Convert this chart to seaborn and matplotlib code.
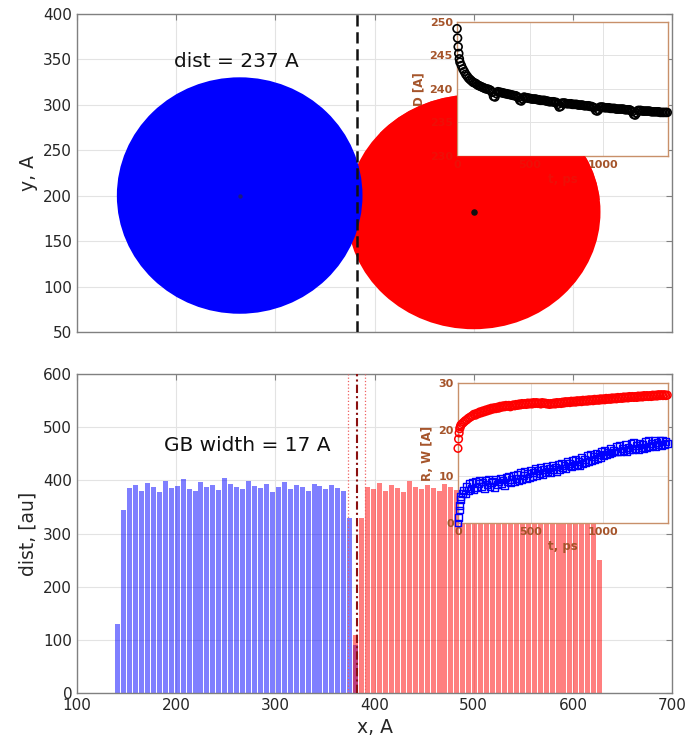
import numpy as np
import pandas as pd
import matplotlib
matplotlib.use("Agg")
import matplotlib.pyplot as plt
from matplotlib.patches import Ellipse
from matplotlib.path import Path
import seaborn as sns

# ---------------- data ----------------
# top panel: two grains (projected atom clouds)
grain_names = ["left grain", "right grain"]
grain_cx = [264, 500]
grain_cy = [200, 182]
grain_rx = [123, 127]
grain_ry = [129, 128]
grain_colors = ["blue", "red"]
gb_position = 382
dist_label = "dist = 237 A"

# bottom panel: histograms (6 A bins)
blue_start = 138
red_start = 378
bin_width = 6
blue_counts = [130, 345, 385, 392, 380, 395, 388, 378, 398, 386,
               390, 402, 384, 380, 396, 388, 392, 381, 405, 394,
               387, 383, 399, 390, 385, 393, 379, 388, 396, 384,
               391, 387, 380, 394, 389, 383, 392, 386, 380, 330,
               90]
red_counts = [110, 330, 388, 384, 395, 380, 392, 386, 378, 398,
              388, 383, 391, 385, 380, 394, 387, 382, 396, 389,
              384, 380, 392, 386, 381, 395, 388, 383, 390, 385,
              379, 393, 387, 382, 389, 384, 380, 391, 386, 382,
              378, 250]
gb_width = 17
gb_label = "GB width = 17 A"

# insets: time series (ps)
t_ps = [0, 4, 8, 12, 16, 20, 30, 40, 50, 60, 70, 80, 90,
        100, 110, 120, 130, 140, 150, 160, 170, 180, 190,
        200, 210, 220, 230, 240, 250, 260, 270, 280, 290,
        300, 310, 320, 330, 340, 350, 360, 370, 380, 390,
        400, 410, 420, 430, 440, 450, 460, 470, 480, 490,
        500, 510, 520, 530, 540, 550, 560, 570, 580, 590,
        600, 610, 620, 630, 640, 650, 660, 670, 680, 690,
        700, 710, 720, 730, 740, 750, 760, 770, 780, 790,
        800, 810, 820, 830, 840, 850, 860, 870, 880, 890,
        900, 910, 920, 930, 940, 950, 960, 970, 980, 990,
        1000, 1010, 1020, 1030, 1040, 1050, 1060, 1070, 1080, 1090,
        1100, 1110, 1120, 1130, 1140, 1150, 1160, 1170, 1180, 1190,
        1200, 1210, 1220, 1230, 1240, 1250, 1260, 1270, 1280, 1290,
        1300, 1310, 1320, 1330, 1340, 1350, 1360, 1370, 1380, 1390,
        1400, 1410, 1420, 1430, 1440]
D_A = [249.0, 247.6, 246.3, 245.3, 244.5, 244.0, 243.5, 243.0, 242.6, 242.2, 241.9, 241.6, 241.4,
       241.2, 241.0, 240.9, 240.8, 240.6, 240.5, 240.4, 240.3, 240.2, 240.1,
       240.0, 240.0, 239.9, 239.8, 239.5, 238.9, 238.8, 239.3, 239.6, 239.5,
       239.5, 239.4, 239.4, 239.3, 239.3, 239.2, 239.2, 239.1, 239.1, 239.0,
       239.0, 238.9, 238.7, 238.3, 238.2, 238.5, 238.8, 238.7, 238.7, 238.6,
       238.6, 238.5, 238.5, 238.5, 238.5, 238.4, 238.4, 238.3, 238.3, 238.3,
       238.3, 238.2, 238.2, 238.1, 238.1, 238.1, 238.1, 238.0, 238.0, 237.7,
       237.3, 237.4, 237.9, 237.9, 237.9, 237.8, 237.8, 237.8, 237.8, 237.7,
       237.7, 237.7, 237.7, 237.6, 237.6, 237.6, 237.6, 237.5, 237.5, 237.5,
       237.5, 237.4, 237.4, 237.3, 237.2, 236.8, 236.7, 236.9, 237.3, 237.3,
       237.3, 237.2, 237.2, 237.2, 237.2, 237.1, 237.1, 237.1, 237.1, 237.0,
       237.0, 237.0, 237.0, 237.0, 237.0, 236.9, 236.9, 236.9, 236.9, 236.8,
       236.6, 236.2, 236.1, 236.4, 236.8, 236.8, 236.8, 236.7, 236.7, 236.7,
       236.7, 236.7, 236.7, 236.6, 236.6, 236.6, 236.6, 236.6, 236.6, 236.5,
       236.5, 236.5, 236.5, 236.5, 236.5]
R_A = [16.0, 18.0, 19.3, 20.2, 20.6, 21.0, 21.3, 21.6, 21.9, 22.1, 22.4, 22.6, 22.8,
       23.0, 23.3, 23.1, 23.5, 23.4, 23.8, 23.6, 24.0, 23.8, 24.2,
       24.0, 24.4, 24.2, 24.6, 24.4, 24.7, 24.5, 24.8, 24.6, 25.0,
       24.8, 25.1, 24.9, 25.2, 25.0, 25.2, 24.9, 25.1, 25.3, 25.1,
       25.4, 25.2, 25.5, 25.3, 25.6, 25.4, 25.6, 25.4, 25.7, 25.5,
       25.7, 25.5, 25.8, 25.6, 25.8, 25.6, 25.7, 25.5, 25.8, 25.6,
       25.7, 25.5, 25.6, 25.4, 25.6, 25.5, 25.7, 25.5, 25.8, 25.6,
       25.8, 25.6, 25.9, 25.7, 26.0, 25.8, 26.0, 25.8, 26.1, 25.9,
       26.1, 25.9, 26.2, 26.0, 26.2, 26.0, 26.3, 26.1, 26.3, 26.1,
       26.4, 26.2, 26.4, 26.2, 26.5, 26.3, 26.5, 26.3, 26.6, 26.4,
       26.6, 26.4, 26.7, 26.5, 26.7, 26.5, 26.8, 26.6, 26.8, 26.6,
       26.9, 26.7, 26.9, 26.7, 27.0, 26.8, 27.0, 26.8, 27.1, 26.9,
       27.1, 26.9, 27.1, 26.9, 27.2, 27.0, 27.2, 27.0, 27.3, 27.1,
       27.3, 27.1, 27.3, 27.1, 27.4, 27.2, 27.4, 27.2, 27.5, 27.3,
       27.5, 27.3, 27.5, 27.3, 27.4]
W_A = [0.0, 1.2, 2.8, 3.8, 5.0, 5.6, 6.4, 7.0, 6.2, 7.8, 7.0, 8.4, 7.4,
       8.6, 7.2, 9.0, 7.6, 8.4, 9.2, 7.8, 8.8, 7.4, 9.2,
       8.2, 9.4, 7.8, 8.6, 9.0, 7.6, 9.4, 8.2, 8.8, 9.6,
       8.4, 9.2, 8.0, 9.8, 8.8, 10.0, 8.6, 9.4, 10.2, 8.8,
       9.6, 10.4, 9.0, 10.8, 9.4, 10.2, 11.0, 9.6, 10.6, 9.8,
       11.2, 10.0, 10.8, 11.6, 10.2, 11.2, 10.6, 12.0, 10.4, 11.4,
       10.8, 12.2, 11.0, 11.8, 10.8, 12.4, 11.4, 12.0, 11.0, 12.6,
       11.4, 12.8, 11.8, 12.4, 11.6, 13.2, 12.2, 12.8, 12.0, 13.4,
       12.4, 13.6, 12.6, 13.2, 12.4, 14.0, 12.8, 13.6, 13.0, 14.4,
       13.2, 14.6, 13.4, 14.2, 13.6, 15.0, 13.8, 14.6, 14.0, 15.4,
       14.4, 15.6, 14.6, 15.2, 14.8, 16.0, 15.0, 15.6, 15.2, 16.4,
       15.2, 16.6, 15.4, 16.0, 15.6, 16.8, 15.4, 16.2, 15.8, 17.0,
       15.8, 17.2, 16.0, 16.6, 15.8, 17.0, 16.2, 16.8, 16.0, 17.4,
       16.2, 17.6, 16.4, 17.0, 16.6, 17.8, 16.4, 17.2, 16.8, 17.8,
       16.6, 17.6, 16.8, 17.4, 17.0]

# ---------------- style ----------------
sns.set_style("white")
plt.rcParams["font.family"] = ["DejaVu Sans"]

SPINE = "#808080"
TXT = "#262626"
BROWN = "#A5542A"
BROWN_BOX = "#C8906A"
GRID = "#E3E3E3"

fig = plt.figure(figsize=(6.89, 7.56), dpi=100)
AX1_POS = [0.1118, 0.5608, 0.8636, 0.4213]
AX2_POS = [0.1118, 0.0833, 0.8636, 0.4220]
INS1_POS = [0.6633, 0.7937, 0.3062, 0.1772]
INS2_POS = [0.6647, 0.3082, 0.3048, 0.1852]
ax1 = fig.add_axes(AX1_POS)
ax2 = fig.add_axes(AX2_POS)


def style_main(ax):
    for s in ax.spines.values():
        s.set_color(SPINE)
        s.set_linewidth(1.0)
        s.set_visible(True)
    ax.tick_params(direction="in", top=True, right=True, length=4,
                   color=SPINE, labelcolor=TXT, labelsize=11, width=0.8)
    ax.grid(True, color=GRID, lw=0.8)
    ax.set_axisbelow(True)


# ---- top panel ----
ax1.set_xlim(100, 700)
ax1.set_ylim(50, 400)
for i in [1, 0]:  # red first, blue on top
    e = Ellipse((grain_cx[i], grain_cy[i]), 2 * grain_rx[i], 2 * grain_ry[i],
                facecolor=grain_colors[i], edgecolor=grain_colors[i], lw=1.2, zorder=2)
    ax1.add_patch(e)
sns.scatterplot(x=[grain_cx[0]], y=[grain_cy[0]], color="#1a1a80", s=10,
                linewidth=0, ax=ax1, zorder=4)
sns.scatterplot(x=[grain_cx[1]], y=[grain_cy[1]], color="#111111", s=22,
                linewidth=0, ax=ax1, zorder=4)
ax1.axvline(gb_position, color="#111111", lw=1.8, ls=(0, (4.5, 2.3)), zorder=5)
ax1.text(198, 347, dist_label, fontsize=14.5, va="center", color="#111111")
ax1.set_xlim(100, 700)
ax1.set_ylim(50, 400)
ax1.set_xticks([100, 200, 300, 400, 500, 600, 700])
ax1.set_xticklabels([])
ax1.set_yticks([50, 100, 150, 200, 250, 300, 350, 400])
ax1.set_xlabel("")
ax1.set_ylabel("y, A", fontsize=13.5, color=TXT)
style_main(ax1)

# ---- bottom panel ----
blue_edges = [blue_start + bin_width * k for k in range(len(blue_counts) + 1)]
red_edges = [red_start + bin_width * k for k in range(len(red_counts) + 1)]
blue_df = pd.DataFrame({"x": [e + bin_width / 2 for e in blue_edges[:-1]], "w": blue_counts})
red_df = pd.DataFrame({"x": [e + bin_width / 2 for e in red_edges[:-1]], "w": red_counts})
sns.histplot(data=blue_df, x="x", weights="w", bins=blue_edges, color="blue",
             alpha=0.5, linewidth=0, shrink=0.84, ax=ax2)
sns.histplot(data=red_df, x="x", weights="w", bins=red_edges, color="red",
             alpha=0.5, linewidth=0, shrink=0.84, ax=ax2)
ax2.axvline(gb_position - gb_width / 2, color="#F06060", lw=0.9, ls=":", zorder=5)
ax2.axvline(gb_position + gb_width / 2, color="#F06060", lw=0.9, ls=":", zorder=5)
ax2.axvline(gb_position, color="#8B1010", lw=1.5, ls=(0, (4, 1.5, 1, 1.5)), zorder=6)
ax2.text(188, 466, gb_label, fontsize=14.5, va="center", color="#111111")
ax2.set_xlim(100, 700)
ax2.set_ylim(0, 600)
ax2.set_xticks([100, 200, 300, 400, 500, 600, 700])
ax2.set_yticks([0, 100, 200, 300, 400, 500, 600])
ax2.set_xlabel("x, A", fontsize=13.5, color=TXT)
ax2.set_ylabel("dist, [au]", fontsize=13.5, color=TXT)
style_main(ax2)


def style_inset(ax):
    ax.set_facecolor("white")
    for s in ax.spines.values():
        s.set_color(BROWN_BOX)
        s.set_linewidth(1.0)
        s.set_visible(True)
    ax.tick_params(direction="in", length=3, color=BROWN_BOX, labelcolor=BROWN,
                   labelsize=8, pad=3, top=False, right=False)
    for lab in ax.get_xticklabels() + ax.get_yticklabels():
        lab.set_fontweight("bold")
    ax.grid(True, color=GRID, lw=0.7)
    ax.set_axisbelow(True)


# ---- top inset ----
ins1 = fig.add_axes(INS1_POS, zorder=10)
sns.scatterplot(x=t_ps, y=D_A, marker="o", s=32, fc="none", ec="black",
                linewidth=1.2, ax=ins1, clip_on=False, zorder=3)
ins1.set_xlim(0, 1445)
ins1.set_ylim(230, 250)
ins1.set_xticks([0, 500, 1000])
ins1.set_yticks([230, 235, 240, 245, 250])
ins1.set_xlabel("t, ps", fontsize=8.5, fontweight="bold", color=BROWN, labelpad=2)
ins1.set_ylabel("D [A]", fontsize=8.5, fontweight="bold", color=BROWN, labelpad=3)
style_inset(ins1)

# red grain drawn again above the inset's labels (only in a band around the
# inset's label area, outside the inset box)
overlay = fig.add_axes(AX1_POS, zorder=20)
overlay.set_xlim(100, 700)
overlay.set_ylim(50, 400)
overlay.axis("off")
overlay.patch.set_visible(False)
e_top = Ellipse((grain_cx[1], grain_cy[1]), 2 * grain_rx[1], 2 * grain_ry[1],
                facecolor="red", edgecolor="red", lw=1.2, alpha=0.82)
overlay.add_patch(e_top)
cx0, cx1 = 380 / 689, AX1_POS[0] + AX1_POS[2]
cy0, cy1 = 1 - 200 / 756, AX1_POS[1] + AX1_POS[3]
ix0, iy0 = INS1_POS[0], INS1_POS[1]
ix1, iy1 = INS1_POS[0] + INS1_POS[2], INS1_POS[1] + INS1_POS[3]
clip = Path([(cx0, cy0), (cx1, cy0), (cx1, cy1), (cx0, cy1), (cx0, cy0),
             (ix0, iy0), (ix0, iy1), (ix1, iy1), (ix1, iy0), (ix0, iy0)],
            [Path.MOVETO, Path.LINETO, Path.LINETO, Path.LINETO, Path.CLOSEPOLY,
             Path.MOVETO, Path.LINETO, Path.LINETO, Path.LINETO, Path.CLOSEPOLY])
e_top.set_clip_path(clip, fig.transFigure)

# ---- bottom inset ----
ins2 = fig.add_axes(INS2_POS, zorder=10)
sns.scatterplot(x=t_ps, y=R_A, marker="o", s=30, fc="none", ec="red",
                linewidth=1.1, ax=ins2, clip_on=False, zorder=3)
sns.scatterplot(x=t_ps, y=W_A, marker="s", s=24, fc="none", ec="blue",
                linewidth=1.0, ax=ins2, clip_on=False, zorder=3)
ins2.set_xlim(0, 1445)
ins2.set_ylim(0, 30)
ins2.set_xticks([0, 500, 1000])
ins2.set_yticks([0, 10, 20, 30])
ins2.set_xlabel("t, ps", fontsize=8.5, fontweight="bold", color=BROWN, labelpad=2)
ins2.set_ylabel("R, W [A]", fontsize=8.5, fontweight="bold", color=BROWN, labelpad=3)
style_inset(ins2)

fig.savefig("out.png", dpi=100)
